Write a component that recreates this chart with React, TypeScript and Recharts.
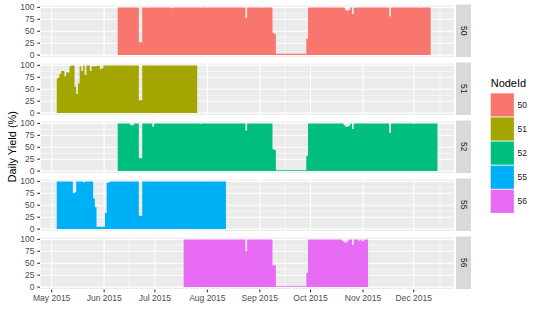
import React from 'react';
import { AreaChart, Area, XAxis, YAxis, CartesianGrid } from 'recharts';

// ---------- data ----------
const nodeIds = ['50', '51', '52', '55', '56'];
const nodeColors = ['#F8766D', '#A3A500', '#00BF7D', '#00B0F6', '#E76BF3'];
const nodeStartDates = ['2015-06-09', '2015-05-04', '2015-06-09', '2015-05-04', '2015-07-18'];

const node50Yield = [
  100, 100, 100, 100, 100, 100, 100, 100, 100, 100,
  100, 100, 100, 27, 27, 100, 100, 100, 99, 100,
  100, 100, 100, 100, 100, 100, 100, 100, 100, 100,
  100, 100, 98, 100, 100, 100, 100, 100, 100, 100,
  100, 100, 100, 100, 100, 100, 100, 100, 100, 99,
  100, 100, 100, 100, 100, 100, 100, 100, 100, 100,
  100, 100, 100, 100, 100, 100, 100, 100, 100, 100,
  100, 100, 100, 100, 100, 100, 78, 100, 100, 100,
  100, 100, 100, 100, 100, 100, 99, 100, 100, 100,
  100, 100, 47, 44, 3, 3, 3, 3, 3, 3,
  3, 3, 3, 3, 3, 3, 3, 3, 3, 3,
  3, 3, 35, 100, 100, 100, 100, 100, 100, 100,
  100, 100, 100, 100, 100, 100, 100, 100, 100, 100,
  100, 100, 100, 100, 98, 94, 93, 95, 100, 86,
  100, 99, 100, 100, 100, 100, 100, 100, 100, 100,
  100, 100, 100, 100, 100, 100, 100, 100, 100, 100,
  100, 81, 100, 100, 100, 100, 100, 100, 100, 100,
  100, 100, 100, 100, 100, 100, 100, 100, 100, 99,
  100, 100, 100, 100, 100, 100,
];

const node51Yield = [
  72, 74, 82, 88, 88, 77, 85, 85, 98, 100,
  100, 55, 40, 62, 98, 88, 100, 80, 100, 100,
  88, 98, 98, 98, 99, 99, 92, 94, 100, 100,
  100, 100, 100, 100, 100, 100, 100, 100, 100, 100,
  100, 100, 100, 100, 100, 100, 100, 100, 100, 27,
  27, 100, 100, 100, 100, 100, 100, 100, 100, 100,
  100, 100, 100, 100, 100, 100, 100, 100, 100, 100,
  100, 100, 100, 100, 100, 100, 100, 100, 100, 100,
  100, 100, 100, 100,
];

const node52Yield = [
  100, 100, 100, 100, 100, 100, 100, 100, 96, 96,
  100, 100, 100, 27, 27, 100, 100, 100, 100, 100,
  100, 93, 100, 100, 100, 100, 100, 100, 100, 100,
  100, 100, 100, 100, 100, 100, 100, 100, 100, 100,
  100, 100, 100, 100, 100, 100, 100, 100, 100, 99,
  100, 100, 100, 100, 100, 100, 100, 100, 100, 100,
  100, 100, 100, 100, 100, 100, 100, 100, 100, 100,
  100, 100, 100, 100, 100, 100, 85, 100, 100, 100,
  100, 100, 100, 100, 100, 100, 100, 100, 100, 100,
  100, 100, 46, 44, 2, 2, 2, 2, 2, 2,
  2, 2, 2, 2, 2, 2, 2, 2, 2, 2,
  2, 2, 32, 100, 100, 100, 100, 100, 100, 100,
  100, 100, 100, 100, 100, 100, 100, 100, 100, 100,
  100, 100, 100, 100, 96, 93, 93, 95, 100, 88,
  100, 100, 100, 100, 100, 100, 100, 100, 100, 100,
  100, 100, 100, 100, 100, 100, 100, 100, 100, 100,
  100, 80, 100, 100, 100, 100, 100, 100, 100, 100,
  100, 100, 100, 100, 100, 99, 100, 100, 100, 100,
  100, 100, 100, 100, 100, 100, 100, 100, 100, 100,
];

const node55Yield = [
  100, 100, 100, 100, 100, 100, 100, 100, 100, 100,
  75, 77, 100, 100, 100, 100, 98, 100, 100, 100,
  100, 100, 64, 46, 5, 5, 5, 5, 5, 34,
  97, 98, 100, 100, 100, 100, 100, 100, 100, 100,
  100, 100, 100, 100, 100, 100, 100, 100, 100, 28,
  28, 100, 100, 100, 100, 100, 100, 100, 100, 100,
  100, 100, 100, 100, 100, 100, 100, 100, 100, 100,
  100, 100, 100, 100, 100, 100, 100, 100, 100, 100,
  100, 100, 100, 100, 100, 100, 100, 100, 100, 100,
  100, 100, 100, 100, 100, 100, 100, 100, 100, 100,
  100,
];

const node56Yield = [
  100, 100, 100, 100, 100, 100, 100, 100, 100, 100,
  100, 100, 100, 100, 100, 100, 100, 100, 100, 100,
  100, 100, 100, 100, 100, 100, 100, 100, 100, 100,
  100, 100, 100, 100, 100, 100, 100, 75, 100, 100,
  100, 100, 100, 100, 100, 100, 100, 100, 100, 100,
  100, 100, 100, 46, 46, 2, 2, 2, 2, 2,
  2, 2, 2, 2, 2, 2, 2, 2, 2, 2,
  2, 2, 2, 30, 100, 100, 100, 100, 100, 100,
  100, 100, 100, 100, 100, 100, 100, 100, 100, 100,
  100, 100, 100, 100, 97, 94, 93, 96, 100, 100,
  88, 100, 100, 100, 97, 100, 96, 100, 100, 100,
];

const nodeYields = [node50Yield, node51Yield, node52Yield, node55Yield, node56Yield];

const monthTickDates = ['2015-05-01', '2015-06-01', '2015-07-01', '2015-08-01', '2015-09-01', '2015-10-01', '2015-11-01', '2015-12-01'];
const monthTickLabels = ['May 2015', 'Jun 2015', 'Jul 2015', 'Aug 2015', 'Sep 2015', 'Oct 2015', 'Nov 2015', 'Dec 2015'];
const minorTickDates = ['2015-05-16T12:00', '2015-06-16T00:00', '2015-07-16T12:00', '2015-08-16T12:00', '2015-09-16T00:00', '2015-10-16T12:00', '2015-11-16T00:00', '2015-12-16T12:00'];
const xDomainDates = ['2015-04-24T02:00', '2015-12-25T02:00'];
const yTicks = [0, 25, 50, 75, 100];
const yMinorTicks = [12.5, 37.5, 62.5, 87.5];
const yDomain = [-5, 105];

// ---------- helpers ----------
const DAY = 86400000;
const toMs = (s: string) => Date.parse(s.length <= 10 ? s + 'T00:00:00Z' : s + ':00Z');
const monthTicks = monthTickDates.map(toMs);
const minorTicks = minorTickDates.map(toMs);
const xDomain = xDomainDates.map(toMs);
const labelFor = (v: number) => {
  const i = monthTicks.indexOf(v);
  return i >= 0 ? monthTickLabels[i] : '';
};

const seriesData = nodeYields.map((vals, k) => {
  const start = toMs(nodeStartDates[k]);
  return vals.map((y, i) => ({ t: start + i * DAY, y }));
});

// ---------- layout ----------
const W = 550;
const H = 320;
const PLOT_LEFT = 40;
const PLOT_RIGHT = 454.5;
const PANEL_H = 52.5;
const PANEL_TOPS = [4.5, 62.5, 120.5, 178.5, 236.5];
const PAD = 6;
const AXIS_H = 30;
const FONT = '"Liberation Sans", Arial, Helvetica, sans-serif';

function Panel({ idx }: { idx: number }) {
  const last = idx === nodeIds.length - 1;
  const h = PAD + PANEL_H + (last ? AXIS_H : PAD);
  return (
    <div style={{ position: 'absolute', left: 0, top: PANEL_TOPS[idx] - PAD, width: W, height: h }}>
      <AreaChart
        width={W}
        height={h}
        data={seriesData[idx]}
        margin={{ top: PAD, right: W - PLOT_RIGHT, bottom: last ? 0 : PAD, left: 0 }}
      >
        <XAxis xAxisId="minor" dataKey="t" type="number" domain={xDomain} ticks={minorTicks} allowDataOverflow hide />
        <YAxis yAxisId="minor" type="number" domain={yDomain} ticks={yMinorTicks} allowDataOverflow hide />
        <CartesianGrid xAxisId="minor" yAxisId="minor" fill="#EBEBEB" stroke="#FFFFFF" strokeWidth={0.55} />
        <CartesianGrid stroke="#FFFFFF" strokeWidth={1.1} />
        <XAxis
          dataKey="t"
          type="number"
          domain={xDomain}
          ticks={monthTicks}
          allowDataOverflow
          hide={!last}
          height={AXIS_H}
          tickFormatter={labelFor}
          axisLine={false}
          tickSize={2.75}
          tickMargin={2.5}
          tickLine={{ stroke: '#333333', strokeWidth: 1.1 }}
          tick={{ fill: '#4D4D4D', fontSize: 8.5, fontFamily: FONT }}
          interval={0}
        />
        <YAxis
          type="number"
          domain={yDomain}
          ticks={yTicks}
          allowDataOverflow
          width={PLOT_LEFT}
          axisLine={false}
          tickSize={2.75}
          tickMargin={2.8}
          tickLine={{ stroke: '#333333', strokeWidth: 1.1 }}
          tick={{ fill: '#4D4D4D', fontSize: 8.5, fontFamily: FONT }}
          interval={0}
        />
        <Area
          dataKey="y"
          type="step"
          fill={nodeColors[idx]}
          fillOpacity={1}
          stroke="none"
          baseValue={0}
          isAnimationActive={false}
          dot={false}
          activeDot={false}
        />
      </AreaChart>
    </div>
  );
}

export default function App() {
  const stripX = 456;
  const stripW = 15;
  const legendX = 490.7;
  const keyTop = 93.3;
  const keyPitch = 24.1;
  const keySize = 23.2;
  const titleY = PANEL_TOPS[0] + (PANEL_TOPS[4] + PANEL_H - PANEL_TOPS[0]) / 2;
  return (
    <div style={{ position: 'absolute', left: 0, top: 0, width: W, height: H, background: '#FFFFFF', fontFamily: FONT, overflow: 'hidden' }}>
      {nodeIds.map((_, i) => (
        <Panel key={i} idx={i} />
      ))}
      <svg width={W} height={H} style={{ position: 'absolute', left: 0, top: 0, pointerEvents: 'none' }}>
        {nodeIds.map((id, i) => {
          const cy = PANEL_TOPS[i] + PANEL_H / 2;
          const cx = stripX + stripW / 2;
          return (
            <g key={id}>
              <rect x={stripX} y={PANEL_TOPS[i]} width={stripW} height={PANEL_H} fill="#D9D9D9" />
              <text
                x={cx}
                y={cy}
                transform={`rotate(90, ${cx}, ${cy})`}
                textAnchor="middle"
                dominantBaseline="central"
                fontSize={8.5}
                fill="#1A1A1A"
                fontFamily={FONT}
              >
                {id}
              </text>
            </g>
          );
        })}
        <text
          x={12}
          y={titleY}
          transform={`rotate(-90, 12, ${titleY})`}
          textAnchor="middle"
          dominantBaseline="central"
          fontSize={11}
          fill="#000000"
          fontFamily={FONT}
        >
          Daily Yield (%)
        </text>
        <text x={legendX} y={87.3} fontSize={11} fill="#000000" fontFamily={FONT}>
          NodeId
        </text>
        {nodeIds.map((id, i) => (
          <g key={'lg' + id}>
            <rect x={legendX} y={keyTop + i * keyPitch} width={keySize} height={keySize} fill={nodeColors[i]} />
            <text
              x={legendX + keySize + 3.7}
              y={keyTop + i * keyPitch + keySize / 2}
              dominantBaseline="central"
              fontSize={8.5}
              fill="#1A1A1A"
              fontFamily={FONT}
            >
              {id}
            </text>
          </g>
        ))}
      </svg>
    </div>
  );
}
